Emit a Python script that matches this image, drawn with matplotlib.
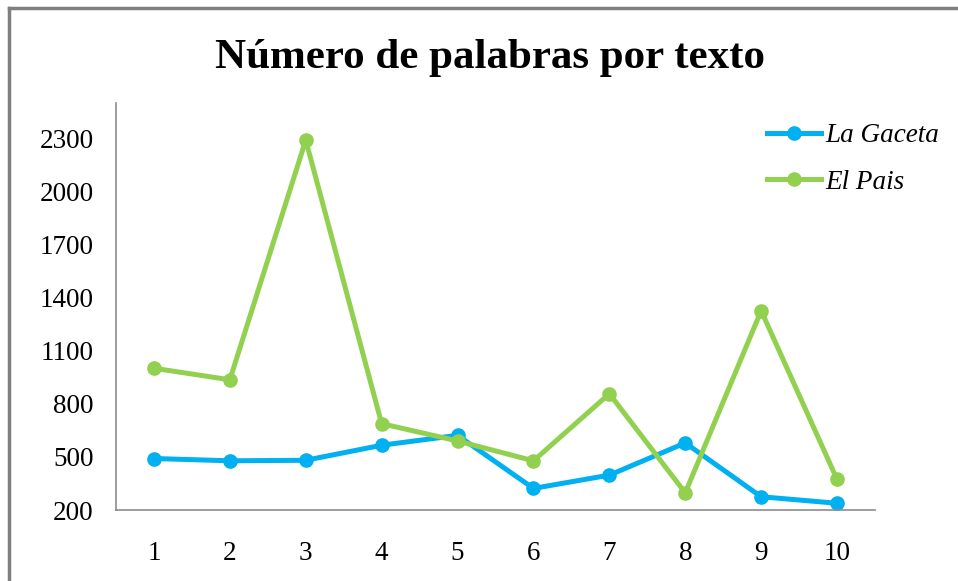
import matplotlib.pyplot as plt
from matplotlib.lines import Line2D

textos = [1, 2, 3, 4, 5, 6, 7, 8, 9, 10]
la_gaceta = [491, 478, 481, 566, 622, 322, 397, 579, 275, 238]
el_pais = [1001, 936, 2290, 688, 590, 478, 857, 297, 1326, 373]
y_ticks = [200, 500, 800, 1100, 1400, 1700, 2000, 2300]

plt.rcParams['font.family'] = ['Liberation Serif', 'DejaVu Serif']

fig = plt.figure(figsize=(9.58, 5.81), dpi=100)
ax = fig.add_axes([116/958, 1-510/581, (875-116)/958, (510-103)/581])

ax.plot(textos, la_gaceta, color='#00b0f0', lw=3.6, marker='o', ms=9.5, label='La Gaceta')
ax.plot(textos, el_pais, color='#92d050', lw=3.6, marker='o', ms=9.5, label='El Pais')

ax.set_xlim(0.5, 10.5)
ax.set_ylim(200, 2500)
ax.set_xticks(textos)
ax.set_yticks(y_ticks)
ax.tick_params(length=0, labelsize=19.5)
ax.tick_params(axis='y', pad=16)
ax.tick_params(axis='x', pad=22)
for s in ['top', 'right']:
    ax.spines[s].set_visible(False)
for s in ['left', 'bottom']:
    ax.spines[s].set_color('#8c8c8c')
    ax.spines[s].set_linewidth(1.2)

fig.text(490/958, 1-58/581, 'Número de palabras por texto', ha='center', va='center',
         fontsize=31, fontweight='bold')

leg = fig.legend(loc='upper left', bbox_to_anchor=(767/958, 1-123/581), frameon=False,
                 prop={'style': 'italic', 'size': 19.5}, handlelength=2.0,
                 handletextpad=0.15, labelspacing=0.8, borderpad=0, borderaxespad=0)

# frame of the chart area (only top and left edges show in the picture)
fig.add_artist(Line2D([9/958, 9/958], [0, 1-8/581], transform=fig.transFigure, color='#7f7f7f', lw=2.5))
fig.add_artist(Line2D([9/958, 1], [1-8/581, 1-8/581], transform=fig.transFigure, color='#7f7f7f', lw=2.5))

fig.savefig('out.png', dpi=100)
